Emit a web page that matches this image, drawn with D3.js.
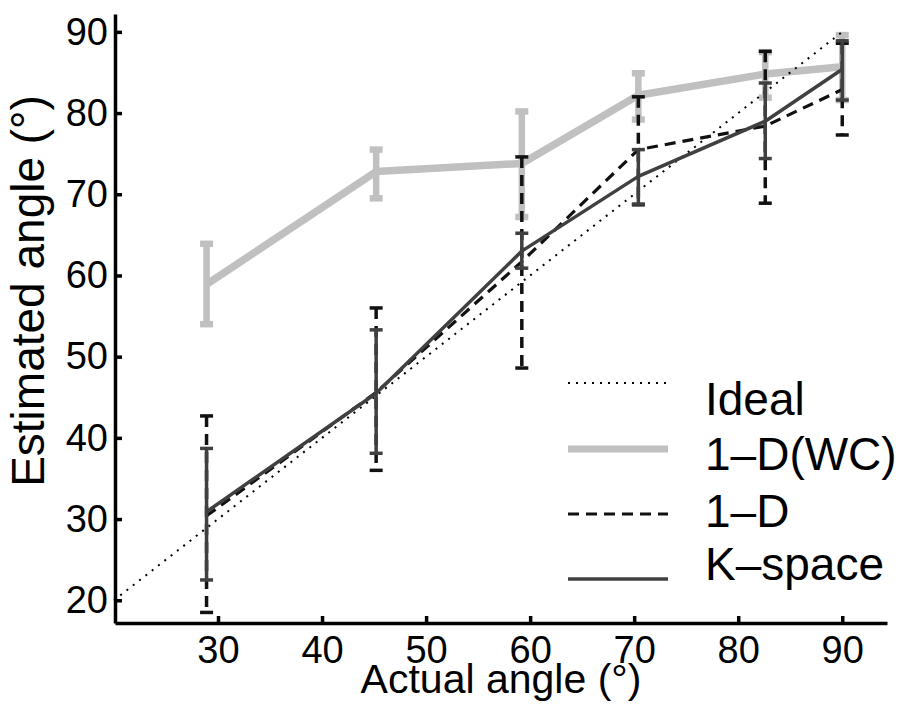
<!DOCTYPE html>
<html>
<head>
<meta charset="utf-8">
<script src="https://cdn.jsdelivr.net/npm/d3@7"></script>
<style>
  body { margin: 0; background: #fff; }
  svg { display: block; }
  text { font-family: "Liberation Sans", Arial, sans-serif; fill: #000; }
</style>
</head>
<body>
<svg id="chart" width="907" height="706"></svg>
<script>
// data
var actual = [28.9, 45.2, 59.2, 70.4, 82.6, 90];

var wcMean = [58.9, 72.8, 73.8, 82.2, 84.8, 85.7];
var wcHi   = [63.9, 75.5, 80.2, 84.9, 87.5, 89.6];
var wcLo   = [54.0, 69.5, 67.2, 79.2, 81.9, 81.6];

var oneDMean = [30.4, 45.6, 61.7, 75.5, 78.4, 82.9];
var oneDHi   = [42.7, 56.0, 74.6, 82.0, 87.6, 88.6];
var oneDLo   = [18.5, 36.0, 48.6, 68.7, 68.9, 77.3];

var kMean = [30.9, 45.5, 63.0, 72.2, 79.0, 85.4];
var kHi   = [38.7, 53.3, 65.2, 75.5, 83.7, 88.9];
var kLo   = [22.5, 38.1, 60.9, 68.8, 74.4, 81.6];

var ideal = [20, 90];

var xTicks = [30, 40, 50, 60, 70, 80, 90];
var yTicks = [20, 30, 40, 50, 60, 70, 80, 90];

var legendNames = ["Ideal", "1\u2013D(WC)", "1\u2013D", "K\u2013space"];

var svg = d3.select("#chart");

var x = d3.scaleLinear().domain([20.1, 94.3]).range([115, 887]);
var y = d3.scaleLinear().domain([17.2, 92.2]).range([623, 14]);

// series styles
var series = [
  {name: legendNames[1], mean: wcMean, hi: wcHi, lo: wcLo, color: "#c0c0c0", width: 7.5, dash: null},
  {name: legendNames[2], mean: oneDMean, hi: oneDHi, lo: oneDLo, color: "#111", width: 3.2, dash: "11,7"},
  {name: legendNames[3], mean: kMean, hi: kHi, lo: kLo, color: "#404040", width: 3.5, dash: null}
];

var line = d3.line()
  .x(function(d){ return x(d[0]); })
  .y(function(d){ return y(d[1]); });

function drawSeries(s){
  var g = svg.append("g");
  var pts = actual.map(function(a, i){ return [a, s.mean[i]]; });
  g.append("path")
    .attr("d", line(pts))
    .attr("fill", "none")
    .attr("stroke", s.color)
    .attr("stroke-width", s.width)
    .attr("stroke-linejoin", "round")
    .attr("stroke-dasharray", s.dash);

  var bw = s.width > 5 ? 6.5 : 3.5;
  actual.forEach(function(a, i){
    var cx = x(a);
    g.append("line")
      .attr("x1", cx).attr("x2", cx)
      .attr("y1", y(s.hi[i])).attr("y2", y(s.lo[i]))
      .attr("stroke", s.color).attr("stroke-width", bw)
      .attr("stroke-dasharray", s.dash);
    [s.hi[i], s.lo[i]].forEach(function(v){
      g.append("line")
        .attr("x1", cx - 6.5).attr("x2", cx + 6.5)
        .attr("y1", y(v)).attr("y2", y(v))
        .attr("stroke", s.color).attr("stroke-width", bw);
    });
  });
}

drawSeries(series[0]);

// ideal y = x
svg.append("path")
  .attr("d", line(ideal.map(function(v){ return [v, v]; })))
  .attr("fill", "none")
  .attr("stroke", "#000")
  .attr("stroke-width", 2)
  .attr("stroke-dasharray", "2,6");

drawSeries(series[1]);
drawSeries(series[2]);

// axes
var xAxis = d3.axisBottom(x).tickValues(xTicks).tickSizeInner(-7).tickSizeOuter(0).tickPadding(13);
var yAxis = d3.axisLeft(y).tickValues(yTicks).tickSizeInner(-7).tickSizeOuter(0).tickPadding(7);

var gx = svg.append("g").attr("transform", "translate(0,623)").call(xAxis);
var gy = svg.append("g").attr("transform", "translate(115,0)").call(yAxis);

[gx, gy].forEach(function(g){
  g.select(".domain").attr("stroke", "#000").attr("stroke-width", 3.5);
  g.selectAll(".tick line").attr("stroke", "#000").attr("stroke-width", 3.5);
  g.selectAll(".tick text").attr("font-size", 38).attr("font-family", "Liberation Sans, Arial, sans-serif").attr("fill", "#000");
});

// axis labels
svg.append("text")
  .attr("x", 501).attr("y", 693)
  .attr("text-anchor", "middle")
  .attr("font-size", 41)
  .text("Actual angle (\u00b0)");

svg.append("text")
  .attr("transform", "translate(44,291) rotate(-90)")
  .attr("text-anchor", "middle")
  .attr("font-size", 46)
  .text("Estimated angle (\u00b0)");

// legend
var legendLines = [
  {color: "#000", width: 2, dash: "2,6", ly: 383, ty: 415},
  {color: series[0].color, width: 7, dash: null, ly: 449, ty: 470},
  {color: series[1].color, width: 3.2, dash: "11,7", ly: 514, ty: 527},
  {color: series[2].color, width: 3.5, dash: null, ly: 579, ty: 580}
];

var lg = svg.append("g");
legendLines.forEach(function(d, i){
  lg.append("line")
    .attr("x1", 568).attr("x2", 668)
    .attr("y1", d.ly).attr("y2", d.ly)
    .attr("stroke", d.color).attr("stroke-width", d.width)
    .attr("stroke-dasharray", d.dash);
  lg.append("text")
    .attr("x", 705).attr("y", d.ty)
    .attr("font-size", 46)
    .text(legendNames[i]);
});
</script>
</body>
</html>
